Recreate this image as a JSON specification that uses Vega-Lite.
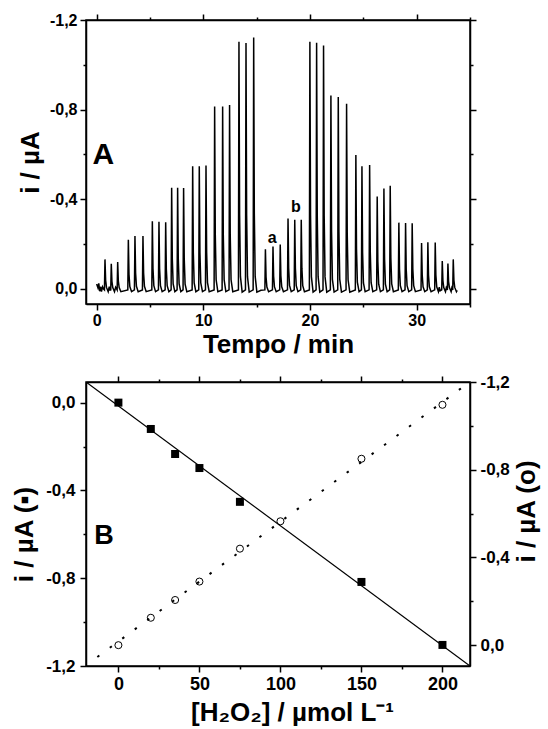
{
 "$schema": "https://vega.github.io/schema/vega-lite/v6.json",
 "background": "white",
 "padding": {"left": 10, "top": 11, "right": 0, "bottom": 0},
 "spacing": 14,
 "config": {
  "font": "Liberation Sans",
  "locale": {"number": {"decimal": ",", "thousands": ".", "grouping": [3], "currency": ["", ""], "minus": "-"}},
  "view": {"stroke": "black", "strokeWidth": 1.5},
  "axis": {"grid": false, "domainColor": "black", "domainWidth": 1.5, "tickColor": "black", "tickWidth": 1.5, "labelColor": "black", "labelFontWeight": "bold", "labelFont": "Liberation Sans", "titleFont": "Liberation Sans", "titleFontWeight": "bold", "titleColor": "black", "labelFlush": false, "labelOverlap": false}
 },
 "datasets": {
  "trace": [
   {"t":0.0,"i":-0.022},{"t":0.12,"i":-0.005},{"t":0.2,"i":-0.025},{"t":0.28,"i":0.01},{"t":0.38,"i":-0.01},{"t":0.45,"i":0.012},{"t":0.55,"i":-0.01},{"t":0.65,"i":0.0},
   {"t":0.73,"i":0.004},{"t":0.78,"i":-0.132},{"t":0.84,"i":-0.040},{"t":0.92,"i":-0.007},{"t":1.08,"i":0.012},{"t":1.18,"i":-0.01},{"t":1.26,"i":0.005},
   {"t":1.32,"i":0.004},{"t":1.37,"i":-0.113},{"t":1.43,"i":-0.034},{"t":1.51,"i":-0.006},{"t":1.67,"i":0.012},{"t":1.78,"i":-0.008},
   {"t":1.92,"i":0.004},{"t":1.97,"i":-0.120},{"t":2.03,"i":-0.036},{"t":2.11,"i":-0.006},{"t":2.27,"i":0.012},
   {"t":2.92,"i":0.004},{"t":2.97,"i":-0.220},{"t":3.03,"i":-0.066},{"t":3.11,"i":-0.011},{"t":3.27,"i":0.012},
   {"t":3.54,"i":0.004},{"t":3.59,"i":-0.236},{"t":3.65,"i":-0.071},{"t":3.73,"i":-0.012},{"t":3.89,"i":0.012},
   {"t":4.29,"i":0.004},{"t":4.34,"i":-0.236},{"t":4.40,"i":-0.071},{"t":4.48,"i":-0.012},{"t":4.64,"i":0.012},
   {"t":5.17,"i":0.004},{"t":5.22,"i":-0.302},{"t":5.28,"i":-0.091},{"t":5.36,"i":-0.015},{"t":5.52,"i":0.012},
   {"t":5.79,"i":0.004},{"t":5.84,"i":-0.300},{"t":5.90,"i":-0.090},{"t":5.98,"i":-0.015},{"t":6.14,"i":0.012},
   {"t":6.42,"i":0.004},{"t":6.47,"i":-0.298},{"t":6.53,"i":-0.089},{"t":6.61,"i":-0.015},{"t":6.77,"i":0.012},
   {"t":6.98,"i":0.004},{"t":7.03,"i":-0.452},{"t":7.09,"i":-0.136},{"t":7.17,"i":-0.023},{"t":7.33,"i":0.012},
   {"t":7.54,"i":0.004},{"t":7.59,"i":-0.452},{"t":7.65,"i":-0.136},{"t":7.73,"i":-0.023},{"t":7.89,"i":0.012},
   {"t":8.10,"i":0.004},{"t":8.15,"i":-0.450},{"t":8.21,"i":-0.135},{"t":8.29,"i":-0.022},{"t":8.45,"i":0.012},
   {"t":8.95,"i":0.004},{"t":9.00,"i":-0.547},{"t":9.06,"i":-0.164},{"t":9.14,"i":-0.027},{"t":9.30,"i":0.012},
   {"t":9.57,"i":0.004},{"t":9.62,"i":-0.548},{"t":9.68,"i":-0.164},{"t":9.76,"i":-0.027},{"t":9.92,"i":0.012},
   {"t":10.20,"i":0.004},{"t":10.25,"i":-0.551},{"t":10.31,"i":-0.165},{"t":10.39,"i":-0.028},{"t":10.55,"i":0.012},
   {"t":11.01,"i":0.004},{"t":11.06,"i":-0.814},{"t":11.12,"i":-0.244},{"t":11.20,"i":-0.041},{"t":11.36,"i":0.012},
   {"t":11.76,"i":0.004},{"t":11.81,"i":-0.814},{"t":11.87,"i":-0.244},{"t":11.95,"i":-0.041},{"t":12.11,"i":0.012},
   {"t":12.41,"i":0.004},{"t":12.46,"i":-0.821},{"t":12.52,"i":-0.246},{"t":12.60,"i":-0.041},{"t":12.76,"i":0.012},
   {"t":13.29,"i":0.004},{"t":13.34,"i":-1.103},{"t":13.40,"i":-0.331},{"t":13.48,"i":-0.055},{"t":13.64,"i":0.014},
   {"t":13.95,"i":0.004},{"t":14.00,"i":-1.097},{"t":14.06,"i":-0.329},{"t":14.14,"i":-0.055},{"t":14.30,"i":0.014},
   {"t":14.67,"i":0.004},{"t":14.72,"i":-1.122},{"t":14.78,"i":-0.337},{"t":14.86,"i":-0.056},{"t":15.02,"i":0.014},{"t":15.40,"i":0.006},
   {"t":15.77,"i":0.004},{"t":15.82,"i":-0.177},{"t":15.88,"i":-0.053},{"t":15.96,"i":-0.009},{"t":16.12,"i":0.012},
   {"t":16.48,"i":0.004},{"t":16.53,"i":-0.189},{"t":16.59,"i":-0.057},{"t":16.67,"i":-0.009},{"t":16.83,"i":0.012},
   {"t":17.16,"i":0.004},{"t":17.21,"i":-0.198},{"t":17.27,"i":-0.059},{"t":17.35,"i":-0.010},{"t":17.51,"i":0.012},
   {"t":17.89,"i":0.004},{"t":17.94,"i":-0.314},{"t":18.00,"i":-0.094},{"t":18.08,"i":-0.016},{"t":18.24,"i":0.012},
   {"t":18.52,"i":0.004},{"t":18.57,"i":-0.309},{"t":18.63,"i":-0.093},{"t":18.71,"i":-0.015},{"t":18.87,"i":0.012},
   {"t":19.13,"i":0.004},{"t":19.18,"i":-0.309},{"t":19.24,"i":-0.093},{"t":19.32,"i":-0.015},{"t":19.48,"i":0.012},
   {"t":19.94,"i":0.004},{"t":19.99,"i":-1.103},{"t":20.05,"i":-0.331},{"t":20.13,"i":-0.055},{"t":20.29,"i":0.014},
   {"t":20.57,"i":0.004},{"t":20.62,"i":-1.098},{"t":20.68,"i":-0.329},{"t":20.76,"i":-0.055},{"t":20.92,"i":0.014},
   {"t":21.22,"i":0.004},{"t":21.27,"i":-1.086},{"t":21.33,"i":-0.326},{"t":21.41,"i":-0.054},{"t":21.57,"i":0.014},
   {"t":21.91,"i":0.004},{"t":21.96,"i":-0.863},{"t":22.02,"i":-0.259},{"t":22.10,"i":-0.043},{"t":22.26,"i":0.014},
   {"t":22.60,"i":0.004},{"t":22.65,"i":-0.857},{"t":22.71,"i":-0.257},{"t":22.79,"i":-0.043},{"t":22.95,"i":0.014},
   {"t":23.38,"i":0.004},{"t":23.43,"i":-0.826},{"t":23.49,"i":-0.248},{"t":23.57,"i":-0.041},{"t":23.73,"i":0.014},
   {"t":24.25,"i":0.004},{"t":24.30,"i":-0.598},{"t":24.36,"i":-0.179},{"t":24.44,"i":-0.030},{"t":24.60,"i":0.012},
   {"t":24.82,"i":0.004},{"t":24.87,"i":-0.547},{"t":24.93,"i":-0.164},{"t":25.01,"i":-0.027},{"t":25.17,"i":0.012},
   {"t":25.54,"i":0.004},{"t":25.59,"i":-0.553},{"t":25.65,"i":-0.166},{"t":25.73,"i":-0.028},{"t":25.89,"i":0.012},
   {"t":26.25,"i":0.004},{"t":26.30,"i":-0.413},{"t":26.36,"i":-0.124},{"t":26.44,"i":-0.021},{"t":26.60,"i":0.012},
   {"t":26.88,"i":0.004},{"t":26.93,"i":-0.448},{"t":26.99,"i":-0.134},{"t":27.07,"i":-0.022},{"t":27.23,"i":0.012},
   {"t":27.47,"i":0.004},{"t":27.52,"i":-0.461},{"t":27.58,"i":-0.138},{"t":27.66,"i":-0.023},{"t":27.82,"i":0.012},
   {"t":28.28,"i":0.004},{"t":28.33,"i":-0.296},{"t":28.39,"i":-0.089},{"t":28.47,"i":-0.015},{"t":28.63,"i":0.012},
   {"t":28.91,"i":0.004},{"t":28.96,"i":-0.294},{"t":29.02,"i":-0.088},{"t":29.10,"i":-0.015},{"t":29.26,"i":0.012},
   {"t":29.53,"i":0.004},{"t":29.58,"i":-0.293},{"t":29.64,"i":-0.088},{"t":29.72,"i":-0.015},{"t":29.88,"i":0.012},
   {"t":30.41,"i":0.004},{"t":30.46,"i":-0.205},{"t":30.52,"i":-0.062},{"t":30.60,"i":-0.010},{"t":30.76,"i":0.012},
   {"t":31.00,"i":0.004},{"t":31.05,"i":-0.208},{"t":31.11,"i":-0.062},{"t":31.19,"i":-0.010},{"t":31.35,"i":0.012},
   {"t":31.69,"i":0.004},{"t":31.74,"i":-0.207},{"t":31.80,"i":-0.062},{"t":31.88,"i":-0.010},{"t":32.04,"i":0.012},{"t":32.12,"i":-0.008},{"t":32.20,"i":0.008},
   {"t":32.35,"i":0.004},{"t":32.40,"i":-0.125},{"t":32.46,"i":-0.038},{"t":32.54,"i":-0.006},{"t":32.70,"i":0.012},{"t":32.78,"i":-0.006},
   {"t":32.88,"i":0.004},{"t":32.93,"i":-0.114},{"t":32.99,"i":-0.034},{"t":33.07,"i":-0.006},{"t":33.23,"i":0.012},{"t":33.30,"i":-0.005},
   {"t":33.38,"i":0.004},{"t":33.43,"i":-0.132},{"t":33.49,"i":-0.040},{"t":33.57,"i":-0.007},{"t":33.73,"i":0.012},{"t":33.80,"i":0.006}
  ],
  "sq": [{"c":0,"i":0.0},{"c":20,"i":-0.12},{"c":35,"i":-0.234},{"c":50,"i":-0.298},{"c":75,"i":-0.452},{"c":150,"i":-0.817},{"c":200,"i":-1.104}],
  "ci": [{"c":0,"i":0.0},{"c":20,"i":-0.125},{"c":35,"i":-0.206},{"c":50,"i":-0.29},{"c":75,"i":-0.44},{"c":100,"i":-0.565},{"c":150,"i":-0.85},{"c":200,"i":-1.096}],
  "fit1": [{"c":-20,"i":0.094},{"c":217,"i":-1.2}],
  "fit2": [{"c":-13,"i":0.054},{"c":212,"i":-1.174}]
 },
 "vconcat": [
  {
   "width": 384, "height": 284,
   "layer": [
    {
     "data": {"name": "trace"},
     "mark": {"type": "line", "color": "black", "strokeWidth": 1.5, "clip": true},
     "encoding": {
      "x": {"field": "t", "type": "quantitative", "scale": {"domain": [-1, 35], "nice": false, "zero": false},
       "axis": {"orient": "bottom", "values": [0,5,10,15,20,25,30,35], "labelExpr": "datum.value % 10 == 0 ? datum.label : ''", "tickSize": {"condition": {"test": "datum.value % 10 == 0", "value": 6}, "value": 3}, "labelFontSize": 16, "labelPadding": 2, "title": "Tempo / min", "titleFontSize": 26, "titlePadding": 3}},
      "y": {"field": "i", "type": "quantitative", "scale": {"domain": [-1.2, 0.067], "reverse": true, "nice": false, "zero": false},
       "axis": {"orient": "left", "values": [-1.2,-1,-0.8,-0.6,-0.4,-0.2,0], "format": ".1f", "labelExpr": "abs(round(datum.value*10)) % 4 == 0 ? datum.label : ''", "tickSize": {"condition": {"test": "abs(round(datum.value*10)) % 4 == 0", "value": 6}, "value": 3}, "labelFontSize": 16, "labelPadding": 3, "title": "i / µA", "titleFontSize": 26, "titlePadding": 6}}
     }
    },
    {
     "data": {"name": "trace"},
     "mark": {"type": "line", "opacity": 0},
     "encoding": {
      "x": {"field": "t", "type": "quantitative", "scale": {"domain": [-1, 35], "nice": false, "zero": false},
       "axis": {"orient": "top", "values": [0,5,10,15,20,25,30,35], "labels": false, "title": null, "tickSize": {"condition": {"test": "datum.value % 10 == 0", "value": 6}, "value": 3}}},
      "y": {"field": "i", "type": "quantitative", "scale": {"domain": [-1.2, 0.067], "reverse": true, "nice": false, "zero": false},
       "axis": {"orient": "right", "values": [-1.2,-1,-0.8,-0.6,-0.4,-0.2,0], "labels": false, "title": null, "tickSize": {"condition": {"test": "abs(round(datum.value*10)) % 4 == 0", "value": 6}, "value": 3}}}
     }
    },
    {
     "data": {"values": [{"t": -0.4, "i": -0.558, "label": "A"}]},
     "mark": {"type": "text", "fontSize": 30, "fontWeight": "bold", "font": "Liberation Sans", "align": "left", "baseline": "alphabetic", "color": "black"},
     "encoding": {
      "x": {"field": "t", "type": "quantitative", "scale": {"domain": [-1, 35], "nice": false, "zero": false}, "axis": null},
      "y": {"field": "i", "type": "quantitative", "scale": {"domain": [-1.2, 0.067], "reverse": true, "nice": false, "zero": false}, "axis": null},
      "text": {"field": "label"}
     }
    },
    {
     "data": {"values": [{"t": 16.45, "i": -0.205, "label": "a"}, {"t": 18.68, "i": -0.345, "label": "b"}]},
     "mark": {"type": "text", "fontSize": 16, "fontWeight": "bold", "font": "Liberation Sans", "align": "center", "baseline": "alphabetic", "color": "black"},
     "encoding": {
      "x": {"field": "t", "type": "quantitative", "scale": {"domain": [-1, 35], "nice": false, "zero": false}, "axis": null},
      "y": {"field": "i", "type": "quantitative", "scale": {"domain": [-1.2, 0.067], "reverse": true, "nice": false, "zero": false}, "axis": null},
      "text": {"field": "label"}
     }
    }
   ],
   "resolve": {"axis": {"x": "independent", "y": "independent"}}
  },
  {
   "width": 384, "height": 284,
   "layer": [
    {
     "data": {"name": "fit1"},
     "mark": {"type": "line", "color": "black", "strokeWidth": 1.2, "clip": true},
     "encoding": {
      "x": {"field": "c", "type": "quantitative", "scale": {"domain": [-20, 217], "nice": false, "zero": false},
       "axis": {"orient": "bottom", "values": [0,25,50,75,100,125,150,175,200], "labelExpr": "datum.value % 50 == 0 ? datum.label : ''", "tickSize": {"condition": {"test": "datum.value % 50 == 0", "value": 6}, "value": 3}, "labelFontSize": 18, "labelPadding": 3, "title": "[H₂O₂] / µmol L⁻¹", "titleFontSize": 26, "titlePadding": 6, "titleX": 206}},
      "y": {"field": "i", "type": "quantitative", "scale": {"domain": [-1.2, 0.094], "nice": false, "zero": false},
       "axis": {"orient": "left", "values": [-1.2,-1,-0.8,-0.6,-0.4,-0.2,0], "format": ".1f", "labelExpr": "abs(round(datum.value*10)) % 4 == 0 ? datum.label : ''", "tickSize": {"condition": {"test": "abs(round(datum.value*10)) % 4 == 0", "value": 6}, "value": 3}, "labelFontSize": 17, "labelPadding": 5, "title": "i / µA (▪)", "titleFontSize": 26, "titlePadding": 8, "titleY": 152}}
     }
    },
    {
     "data": {"name": "sq"},
     "mark": {"type": "square", "size": 64, "color": "black", "opacity": 1},
     "encoding": {
      "x": {"field": "c", "type": "quantitative", "scale": {"domain": [-20, 217], "nice": false, "zero": false}, "axis": null},
      "y": {"field": "i", "type": "quantitative", "scale": {"domain": [-1.2, 0.094], "nice": false, "zero": false}, "axis": null}
     }
    },
    {
     "data": {"name": "fit2"},
     "mark": {"type": "line", "color": "black", "strokeWidth": 2, "strokeDash": [2.5, 13], "clip": true},
     "encoding": {
      "x": {"field": "c", "type": "quantitative", "scale": {"domain": [-20, 217], "nice": false, "zero": false},
       "axis": {"orient": "top", "values": [0,25,50,75,100,125,150,175,200], "labels": false, "title": null, "tickSize": {"condition": {"test": "datum.value % 50 == 0", "value": 6}, "value": 3}}},
      "y": {"field": "i", "type": "quantitative", "scale": {"domain": [-1.2, 0.095], "reverse": true, "nice": false, "zero": false},
       "axis": {"orient": "right", "values": [-1.2,-1,-0.8,-0.6,-0.4,-0.2,0], "format": ".1f", "labelExpr": "abs(round(datum.value*10)) % 4 == 0 ? datum.label : ''", "tickSize": {"condition": {"test": "abs(round(datum.value*10)) % 4 == 0", "value": 6}, "value": 3}, "labelFontSize": 17, "labelPadding": 4, "title": "i / µA (o)", "titleFontSize": 26, "titlePadding": 4, "titleAngle": 270, "titleBaseline": "top", "titleY": 129}}
     }
    },
    {
     "data": {"name": "ci"},
     "mark": {"type": "point", "shape": "circle", "size": 50, "filled": false, "color": "black", "strokeWidth": 1, "opacity": 1},
     "encoding": {
      "x": {"field": "c", "type": "quantitative", "scale": {"domain": [-20, 217], "nice": false, "zero": false}, "axis": null},
      "y": {"field": "i", "type": "quantitative", "scale": {"domain": [-1.2, 0.095], "reverse": true, "nice": false, "zero": false}, "axis": null}
     }
    },
    {
     "data": {"values": [{"c": -14.9, "i": -0.645, "label": "B"}]},
     "mark": {"type": "text", "fontSize": 27, "fontWeight": "bold", "font": "Liberation Sans", "align": "left", "baseline": "alphabetic", "color": "black"},
     "encoding": {
      "x": {"field": "c", "type": "quantitative", "scale": {"domain": [-20, 217], "nice": false, "zero": false}, "axis": null},
      "y": {"field": "i", "type": "quantitative", "scale": {"domain": [-1.2, 0.094], "nice": false, "zero": false}, "axis": null},
      "text": {"field": "label"}
     }
    }
   ],
   "resolve": {"scale": {"y": "independent"}, "axis": {"x": "independent", "y": "independent"}}
  }
 ]
}
